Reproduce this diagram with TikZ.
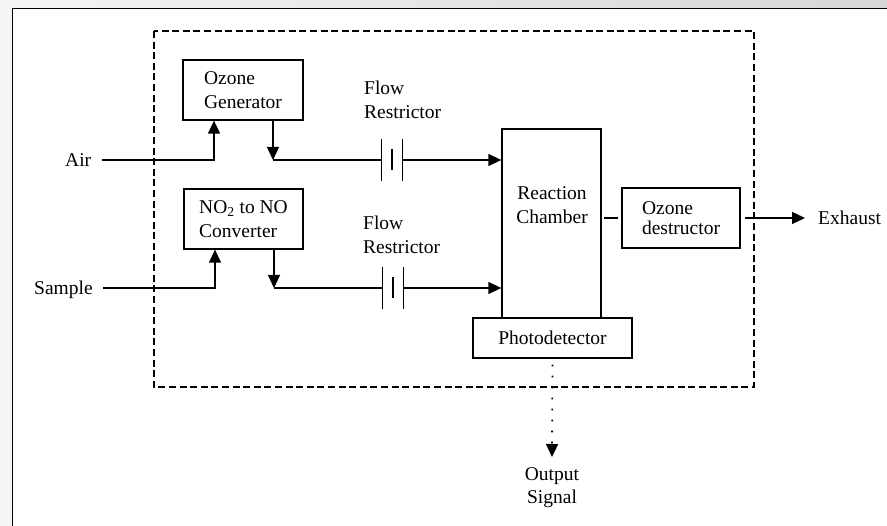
\documentclass[tikz,border=0pt]{standalone}
\usepackage{fontspec}
\setmainfont{Liberation Serif}
\usetikzlibrary{arrows.meta,calc}
\begin{document}
\begin{tikzpicture}[x=1pt,y=-1pt,
  txt/.style={inner sep=0pt, font=\fontsize{19.5}{23.5}\selectfont},
  lbl/.style={txt, text height=13pt, text depth=0pt},
  box/.style={draw, line width=1.3pt, inner sep=0pt, align=left, font=\fontsize{19.5}{23.5}\selectfont},
  wire/.style={line width=1.3pt},
  conn/.style={line width=1.3pt, -{Triangle[length=13pt,width=12pt]}},
  restr/.style={minimum width=20pt, minimum height=41pt, inner sep=0pt},
  frame/.style={line width=1.2pt, dash pattern=on 7pt off 3.6pt},
  sig/.style={line width=1.8pt, dash pattern=on 1.8pt off 9.2pt, dash phase=-6pt, -{Triangle[length=13pt,width=12pt]}}
]
\useasboundingbox (0,0) rectangle (887,526);
% screenshot surround
\fill[black!4] (0,0) rectangle (887,526);
\shade[left color=black!4, right color=black!16] (0,0) rectangle (887,8.5);
\fill[white] (13,9) rectangle (887,526);
\draw[line width=1.6pt] (12.5,526) -- (12.5,8.5) -- (887,8.5);

% instrument boundary
\draw[frame] (154,31) rectangle (754,387);

% blocks
\node[box, minimum width=120pt, minimum height=60pt] (gen) at (243,90) {Ozone\\Generator};
\node[box, minimum width=119pt, minimum height=60pt] (conv) at (243.5,219) {NO\textsubscript{2} to NO\\Converter};
\node[box, minimum width=159pt, minimum height=40pt] (photo) at (552.5,338) {Photodetector};
\node[box, minimum width=99pt, minimum height=189pt] (chamber) at (551.5,223.5) {};
\node[txt, align=center] (chambertxt) at (552,205) {Reaction\\Chamber};
\node[box, minimum width=118pt, minimum height=60pt, font=\fontsize{19.5}{20}\selectfont] (destr) at (681,218) {Ozone\\destructor};

% flow restrictors
\node[restr] (r1) at (392,160) {};
\node[restr] (r2) at (393,288) {};
\foreach \r in {r1,r2}{
  \draw[wire] (\r.north west) -- (\r.south west);
  \draw[wire] (\r.north east) -- (\r.south east);
  \draw[wire] ([yshift=-10pt]\r.north) -- ([yshift=11pt]\r.south);
}
\node[txt, align=left, anchor=west] (fl1) at (364,100) {Flow\\Restrictor};
\node[txt, align=left, anchor=west] (fl2) at (363,235) {Flow\\Restrictor};

% outside labels
\node[lbl, anchor=west] (air) at (65,160) {Air};
\node[lbl, anchor=west] (sample) at (34,288) {Sample};
\node[lbl, anchor=west] (exhaust) at (818,218) {Exhaust};
\node[txt, align=center, anchor=north] (output) at (552,467) {Output\\Signal};

% junctions
\coordinate (a1) at (214,160);
\coordinate (j1) at (273,160);
\coordinate (a2) at (215,288);
\coordinate (j2) at (274,288);

% air path
\draw[conn] ([xshift=11pt]air.east) -| (gen.south -| a1);
\draw[conn] (gen.south -| j1) -- (j1);
\draw[wire] (j1) -- (r1.west);
\draw[conn] (r1.east) -- (r1.east -| chamber.west);

% sample path
\draw[conn] ([xshift=10pt]sample.east) -| (conv.south -| a2);
\draw[conn] (conv.south -| j2) -- (j2);
\draw[wire] (j2) -- (r2.west);
\draw[conn] (r2.east) -- (r2.east -| chamber.west);

% exhaust path
\draw[wire, shorten <=2pt, shorten >=3pt] (chamber.east |- destr.west) -- (destr.west);
\draw[conn] ([xshift=4pt]destr.east) -- ([xshift=-13pt]exhaust.west |- destr.east);

% output signal
\draw[sig] (photo.south) -- ([yshift=10pt]output.north);
\end{tikzpicture}
\end{document}
